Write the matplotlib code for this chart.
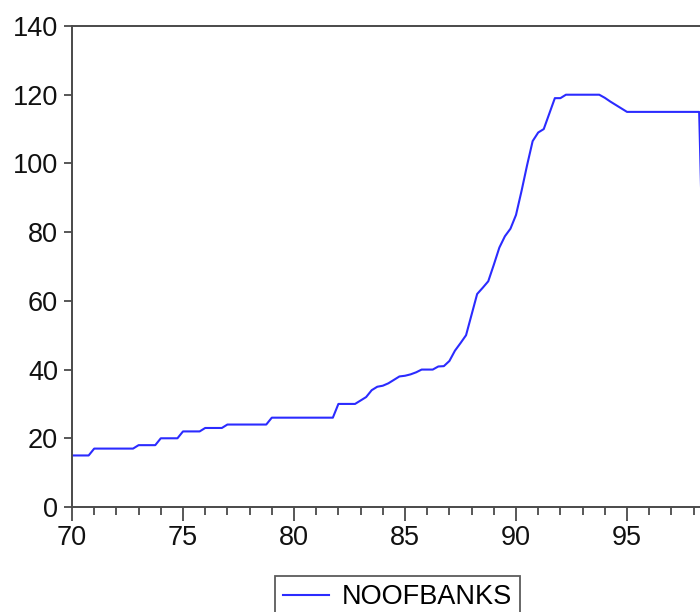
import numpy as np
import matplotlib
matplotlib.use("Agg")
import matplotlib.pyplot as plt

plt.rcParams['font.family'] = ['Liberation Sans', 'DejaVu Sans']

# === Datos trimestrales (1970Q1 ... 1998Q3) ===
serie = "NOOFBANKS"
inicio = 70
vals_70s = [15, 15, 15, 15,  17, 17, 17, 17,  17, 17, 17, 17,  18, 18, 18, 18,
            20, 20, 20, 20,  22, 22, 22, 22,  23, 23, 23, 23,  24, 24, 24, 24,
            24, 24, 24, 24,  26, 26, 26, 26]
vals_80s = [26, 26, 26, 26,  26, 26, 26, 26,  30, 30, 30, 30,  31, 32, 34, 35,
            35.3, 36, 37, 38,  38.2, 38.6, 39.2, 40,  40, 40, 40.9, 41,
            42.5, 45.5, 47.7, 50,  56, 62, 63.8, 65.7,  70.5, 75.5, 78.8, 81]
vals_90s = [85, 92, 99.5, 106.5,  109, 110, 114.5, 119,  119, 120, 120, 120,
            120, 120, 120, 120,  119.1, 118, 117, 116,  115, 115, 115, 115,
            115, 115, 115, 115,  115, 115, 115, 115,  115, 115, 50]

noofbanks = np.array(vals_70s + vals_80s + vals_90s)
t = inicio + 0.25 * np.arange(len(noofbanks))

# === Figura ===
fig = plt.figure(figsize=(7, 6.12), dpi=100)
x0, x1 = 70, 99
ppu = 22.2  # px por año
ax = fig.add_axes([72 / 700, 1 - 507 / 612, (x1 - x0) * ppu / 700, (507 - 26) / 612])

ax.plot(t, noofbanks, "-", color="#2b2bff", linewidth=1.5, label=serie)

ax.set_xlim(x0, x1)
ax.set_ylim(0, 140)
ax.set_xticks(np.arange(70, 100, 5))
ax.set_xticks(np.arange(70, 100, 1), minor=True)
ax.set_yticks(np.arange(0, 141, 20))

for s in ["left", "bottom", "top", "right"]:
    ax.spines[s].set_color("#4a4a4a")
    ax.spines[s].set_linewidth(1.4)

ax.tick_params(axis="x", which="major", length=10, width=1.3, color="#4a4a4a",
               labelsize=19.5, pad=3, labelcolor="#111111")
ax.tick_params(axis="x", which="minor", length=5.5, width=1.3, color="#4a4a4a")
ax.tick_params(axis="y", which="major", length=6, width=1.3, color="#4a4a4a",
               labelsize=19.5, pad=4, labelcolor="#111111")

leg = fig.legend(loc="upper left", bbox_to_anchor=(275 / 700, 1 - 576 / 612),
                 fontsize=19.5, frameon=True, fancybox=False, borderaxespad=0,
                 handlelength=1.7, handletextpad=0.45, borderpad=0.3)
leg.get_frame().set_edgecolor("#333333")
leg.get_frame().set_linewidth(1.3)

fig.savefig("out.png", dpi=100)
